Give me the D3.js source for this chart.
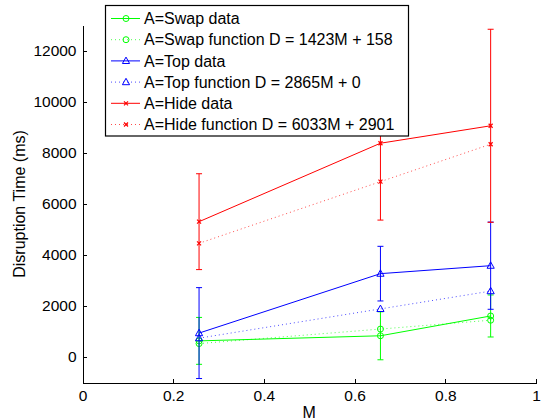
<!DOCTYPE html>
<html>
<head>
<meta charset="utf-8">
<script src="https://cdn.jsdelivr.net/npm/d3@7"></script>
<style>
  body { margin: 0; background: #fff; }
  svg { display: block; font-family: "Liberation Sans", Arial, sans-serif; }
  .axis path, .axis line { stroke: #000; shape-rendering: crispEdges; }
  .axis text { font-size: 15.5px; fill: #000; }
</style>
</head>
<body>
<div id="chart"></div>
<script>
const width = 545;
const height = 418;

// M values of the three conditions
const mValues = [0.257, 0.657, 0.9];

const swapData = [630, 830, 1605];
const swapErr = [918, 940, 823];
const swapFit = [524, 1093, 1439];

const topData = [935, 3263, 3575];
const topErr = [1780, 1070, 1708];
const topFit = [736, 1882, 2579];

const hideData = [5298, 8370, 9053];
const hideErr = [1877, 3010, 3780];
const hideFit = [4451, 6865, 8331];

const xTicks = [0, 0.2, 0.4, 0.6, 0.8, 1];
const yTicks = [0, 2000, 4000, 6000, 8000, 10000, 12000];

const legendLabels = [
  'A=Swap data',
  'A=Swap function D = 1423M + 158',
  'A=Top data',
  'A=Top function D = 2865M + 0',
  'A=Hide data',
  'A=Hide function D = 6033M + 2901'
];

const series = [
  { values: swapData, err: swapErr, color: '#00ff00', marker: 'circle', dotted: false },
  { values: swapFit, color: '#00ff00', marker: 'circle', dotted: true },
  { values: topData, err: topErr, color: '#0000ff', marker: 'triangle', dotted: false },
  { values: topFit, color: '#0000ff', marker: 'triangle', dotted: true },
  { values: hideData, err: hideErr, color: '#ff0000', marker: 'x', dotted: false },
  { values: hideFit, color: '#ff0000', marker: 'x', dotted: true }
];

const xScale = d3.scaleLinear()
  .domain([0, 1])
  .range([82.5, 536])

const yScale = d3.scaleLinear()
  .domain([-1000, 13000])
  .range([382.5, 25])

const svg = d3.select('#chart').append('svg')
  .attr('width', width)
  .attr('height', height)

const xAxis = d3.axisBottom(xScale)
  .tickValues(xTicks)
  .tickFormat(d3.format('~g'))
  .tickSizeInner(-4)
  .tickSizeOuter(0)
  .tickPadding(7)

const yAxis = d3.axisLeft(yScale)
  .tickValues(yTicks)
  .tickFormat(d => d)
  .tickSizeInner(-4)
  .tickSizeOuter(0)
  .tickPadding(6)

svg.append('g')
  .attr('class', 'axis')
  .attr('transform', `translate(0,${yScale(-1000)})`)
  .call(xAxis)

svg.append('g')
  .attr('class', 'axis')
  .attr('transform', `translate(${xScale(0)},0)`)
  .call(yAxis)

// axis titles
svg.append('text')
  .attr('x', (xScale(0) + xScale(1)) / 2)
  .attr('y', 418)
  .attr('text-anchor', 'middle')
  .style('font-size', '16px')
  .text('M')

svg.append('text')
  .attr('transform', `translate(25,204) rotate(-90)`)
  .attr('text-anchor', 'middle')
  .style('font-size', '16px')
  .text('Disruption Time (ms)')

function drawMarker(g, type, color, cx, cy) {
  if (type === 'circle') {
    g.append('circle')
      .attr('cx', cx).attr('cy', cy).attr('r', 3)
      .attr('fill', 'none').attr('stroke', color)
  } else if (type === 'triangle') {
    g.append('path')
      .attr('d', `M${cx},${cy - 3.8}L${cx + 3.6},${cy + 2.6}L${cx - 3.6},${cy + 2.6}Z`)
      .attr('fill', 'none').attr('stroke', color)
  } else {
    const s = 2;
    g.append('path')
      .attr('d', `M${cx - s},${cy - s}L${cx + s},${cy + s}M${cx - s},${cy + s}L${cx + s},${cy - s}`)
      .attr('fill', 'none').attr('stroke', color).attr('stroke-width', 1.2)
  }
}

const line = d3.line()
  .x((d, i) => xScale(mValues[i]))
  .y(d => yScale(d))

const plot = svg.append('g')

series.forEach(s => {
  const g = plot.append('g')
  if (s.err) {
    s.values.forEach((v, i) => {
      const x = xScale(mValues[i])
      const y0 = yScale(v - s.err[i])
      const y1 = yScale(v + s.err[i])
      g.append('path')
        .attr('d', `M${x},${y0}L${x},${y1}M${x - 3},${y0}L${x + 3},${y0}M${x - 3},${y1}L${x + 3},${y1}`)
        .attr('stroke', s.color)
        .attr('fill', 'none')
    })
  }
  g.append('path')
    .datum(s.values)
    .attr('d', line)
    .attr('fill', 'none')
    .attr('stroke', s.color)
    .attr('stroke-width', 1)
    .attr('stroke-dasharray', s.dotted ? '1,3' : null)
    .attr('opacity', s.dotted ? 0.7 : 1)
  s.values.forEach((v, i) => drawMarker(g, s.marker, s.color, xScale(mValues[i]), yScale(v)))
})

// legend
const legend = svg.append('g')

legend.append('rect')
  .attr('x', 105.5)
  .attr('y', 5.5)
  .attr('width', 303)
  .attr('height', 130.5)
  .attr('fill', '#fff')
  .attr('stroke', '#000')
  .attr('stroke-width', 1.2)

const rowY = d3.scaleLinear()
  .domain([0, 5])
  .range([18.5, 124.5])

legendLabels.forEach((label, i) => {
  const s = series[i]
  const y = rowY(i)
  const row = legend.append('g')
  row.append('line')
    .attr('x1', 111).attr('x2', 140)
    .attr('y1', y).attr('y2', y)
    .attr('stroke', s.color)
    .attr('stroke-dasharray', s.dotted ? '1,3' : null)
    .attr('opacity', s.dotted ? 0.7 : 1)
  drawMarker(row, s.marker, s.color, 126, y)
  row.append('text')
    .attr('x', 144)
    .attr('y', y)
    .attr('dy', '0.36em')
    .style('font-size', '16px')
    .text(label)
})
</script>
</body>
</html>
